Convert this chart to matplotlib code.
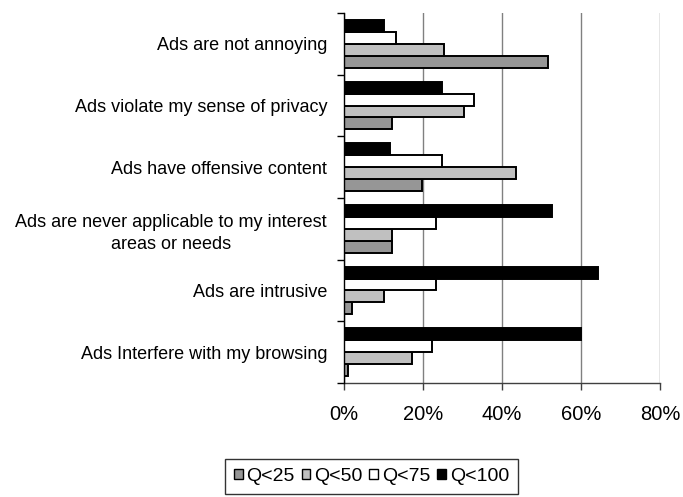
import numpy as np
import matplotlib
matplotlib.use("Agg")
import matplotlib.pyplot as plt

plt.rcParams['font.family'] = ['Liberation Sans', 'DejaVu Sans']

## data (bottom category first, as drawn)
categories = ["Ads Interfere with my browsing",
              "Ads are intrusive",
              "Ads are never applicable to my interest\nareas or needs",
              "Ads have offensive content",
              "Ads violate my sense of privacy",
              "Ads are not annoying"]
q25 = [1.0, 2.0, 12.1, 19.8, 12.1, 51.7]
q50 = [17.2, 10.1, 12.1, 43.6, 30.4, 25.4]
q75 = [22.3, 23.4, 23.4, 24.8, 33.0, 13.2]
q100 = [59.9, 64.4, 52.8, 11.7, 24.9, 10.3]
series_names = ["Q<25", "Q<50", "Q<75", "Q<100"]
xticks = [0, 20, 40, 60, 80]

def main():
    fig = plt.figure(figsize=(6.83, 4.97), dpi=100)
    ax = fig.add_axes([0.5032, 0.2294, 0.4631, 0.7444])

    y = np.arange(len(categories))
    h = 0.193
    colors = ["#969696", "#c0c0c0", "white", "black"]
    series = [q25, q50, q75, q100]
    for k, (vals, c, name) in enumerate(zip(series, colors, series_names)):
        ax.barh(y + (k - 1.5) * h, vals, height=h, color=c,
                edgecolor="black", linewidth=1.4, label=name, zorder=3)

    ## axes
    ax.set_xlim(0, 80)
    ax.set_ylim(-0.5, len(categories) - 0.5)
    ax.set_xticks(xticks)
    ax.set_xticklabels([f"{v}%" for v in xticks], fontsize=14.5)
    ax.set_yticks(y)
    ax.set_yticklabels(categories, fontsize=13, linespacing=1.4)
    for lab in ax.get_yticklabels():
        lab.set_multialignment("center")
    ax.set_yticks(np.arange(-0.5, len(categories)), minor=True)
    ax.tick_params(axis="y", which="major", length=0, pad=12)
    ax.tick_params(axis="y", which="minor", length=5, width=1, direction="out")
    ax.tick_params(axis="x", length=5, width=1, direction="out", pad=11, color="#404040")

    ax.grid(axis="x", color="#808080", linewidth=1, zorder=0)
    ax.spines["top"].set_visible(False)
    ax.spines["right"].set_visible(False)
    ax.spines["left"].set_color("black")
    ax.spines["left"].set_linewidth(1)
    ax.spines["left"].set_zorder(4)
    ax.spines["bottom"].set_color("#404040")
    ax.spines["bottom"].set_linewidth(1)

    ## legend
    leg = fig.legend(loc="center", bbox_to_anchor=(371.5 / 683, 1 - 476.5 / 497),
                     ncol=4, fontsize=14, frameon=True, fancybox=False,
                     handlelength=0.45, handleheight=0.45, handletextpad=0.2,
                     columnspacing=0.35, borderpad=0.45, borderaxespad=0)
    leg.get_frame().set_edgecolor("black")
    leg.get_frame().set_linewidth(1)
    for p in leg.get_patches():
        p.set_linewidth(1)

    fig.savefig("out.png", dpi=100)


if __name__ == "__main__":
    main()
